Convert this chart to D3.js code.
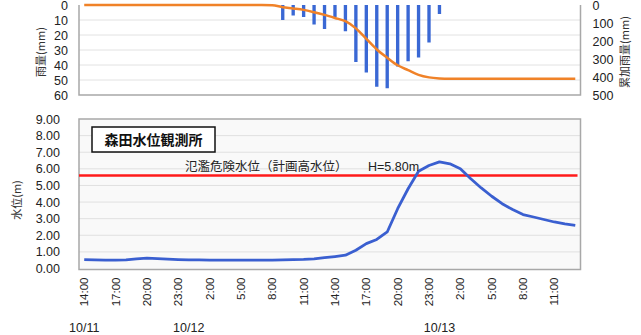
<!DOCTYPE html>
<html>
<head>
<meta charset="utf-8">
<script src="https://cdn.jsdelivr.net/npm/d3@7/dist/d3.min.js"></script>
<style>
body{margin:0;background:#fff}
svg{display:block}
</style>
</head>
<body>
<svg id="chart" width="641" height="335"></svg>
<script>
// hourly categories 10/11 14:00 .. 10/13 13:00
var hours=d3.range(48)
var timeLabels=['14:00','17:00','20:00','23:00','2:00','5:00','8:00','11:00',
                '14:00','17:00','20:00','23:00','2:00','5:00','8:00','11:00']
var dateLabels=['10/11','10/12','10/13']
var dateHour=[0,10,34]
var rain=[0,0,0,0,0,0,0,0,0,0,
          0,0,0,0,0,0,0,0,0,10,
          7,8,13,16,8,17.5,38,45,54.5,55.5,
          41,37.5,35,25,6,0,0,0,0,0,
          0,0,0,0,0,0,0,0]
var cumRain=[0,0,0,0,0,0,0,0,0,0,
             0,0,0,0,0,0,0,0,1,12,
             19,27,40,55,72,90,130,188,247,293,
             335,362,388,402,408,410,410,410,410,410,
             410,410,410,410,410,410,410,410]
var level=[0.54,0.52,0.50,0.50,0.52,0.58,0.62,0.60,0.57,0.54,
           0.52,0.52,0.50,0.50,0.50,0.50,0.50,0.50,0.50,0.52,
           0.54,0.55,0.58,0.65,0.72,0.80,1.10,1.50,1.75,2.20,
           3.60,4.80,5.85,6.20,6.42,6.30,6.00,5.40,4.85,4.35,
           3.90,3.55,3.25,3.10,2.95,2.80,2.68,2.60]
var dangerLevel=5.6
var rainTicks=[0,10,20,30,40,50,60]
var cumTicks=[0,100,200,300,400,500]
var levelTicks=[0,1,2,3,4,5,6,7,8,9]

var svg=d3.select('#chart')
var jp='"Noto Sans CJK JP", sans-serif'
var num='"Liberation Sans", Arial, sans-serif'
var conf={left:79,right:580.5,topY0:5,topY1:95,botY0:119,botY1:268.5}

var x=d3.scaleBand().domain(hours).range([conf.left,conf.right])
var yRain=d3.scaleLinear().domain([0,60]).range([conf.topY0,conf.topY1])
var yCum=d3.scaleLinear().domain([0,500]).range([conf.topY0,conf.topY1])
var yLev=d3.scaleLinear().domain([0,9]).range([conf.botY1,conf.botY0])

// ---- top chart (rain) ----
var rainG=svg.append('g').attr('id','rain')
rainG.selectAll('line.grid')
    .data(rainTicks.slice(1,-1))
    .join('line')
    .attr('class','grid')
    .attr('x1',conf.left).attr('x2',conf.right)
    .attr('y1',d=>yRain(d)).attr('y2',d=>yRain(d))
    .attr('stroke','#e2e2e2').attr('stroke-width',1)
rainG.append('path')
    .attr('d',`M${conf.left},${conf.topY0}V${conf.topY1}H${conf.right}V${conf.topY0}`)
    .attr('fill','none').attr('stroke','#a8a8a8').attr('stroke-width',1.5)

var bw=x.bandwidth()*0.32
rainG.selectAll('rect')
    .data(hours.filter(i=>rain[i]>0))
    .join('rect')
    .attr('x',i=>x(i)+x.bandwidth()/2-bw/2)
    .attr('y',yRain(0))
    .attr('width',bw)
    .attr('height',i=>yRain(rain[i])-yRain(0))
    .attr('fill','#3a68d4')

rainG.append('path')
    .datum(hours)
    .attr('d',d3.line().x(i=>x(i)+x.bandwidth()/2).y(i=>yCum(cumRain[i])).curve(d3.curveMonotoneX))
    .attr('fill','none').attr('stroke','#f08228').attr('stroke-width',2.5)

var axL=rainG.append('g').attr('transform',`translate(${conf.left},0)`)
    .call(d3.axisLeft(yRain).tickValues(rainTicks).tickSize(0).tickPadding(11))
var axR=rainG.append('g').attr('transform',`translate(${conf.right},0)`)
    .call(d3.axisRight(yCum).tickValues(cumTicks).tickSize(0).tickPadding(12))
;[axL,axR].forEach(a=>{
    a.select('.domain').remove()
    a.selectAll('text').attr('font-family',num).attr('font-size',12.5).attr('fill','#222')
})
rainG.append('text')
    .attr('transform','translate(45,52) rotate(-90)')
    .attr('text-anchor','middle')
    .attr('font-family',jp).attr('font-size',11).attr('fill','#333')
    .text('雨量(mm)')
rainG.append('text')
    .attr('transform','translate(629,52) rotate(-90)')
    .attr('text-anchor','middle')
    .attr('font-family',jp).attr('font-size',11).attr('fill','#333')
    .text('累加雨量(mm)')

// ---- bottom chart (water level) ----
var bot=svg.append('g').attr('id','level')
bot.append('rect')
    .attr('x',conf.left).attr('y',conf.botY0)
    .attr('width',conf.right-conf.left).attr('height',conf.botY1-conf.botY0+1)
    .attr('fill','#f9f9f9')
bot.selectAll('line.grid')
    .data(levelTicks.slice(1,-1))
    .join('line')
    .attr('class','grid')
    .attr('x1',conf.left).attr('x2',conf.right)
    .attr('y1',d=>yLev(d)).attr('y2',d=>yLev(d))
    .attr('stroke','#e0e0e0').attr('stroke-width',1)
bot.append('rect')
    .attr('x',conf.left).attr('y',conf.botY0)
    .attr('width',conf.right-conf.left).attr('height',conf.botY1-conf.botY0+1)
    .attr('fill','none').attr('stroke','#a8a8a8').attr('stroke-width',1.5)

bot.append('line')
    .attr('x1',conf.left).attr('x2',conf.right-3)
    .attr('y1',yLev(dangerLevel)).attr('y2',yLev(dangerLevel))
    .attr('stroke','#ff1a1a').attr('stroke-width',2.5)

bot.append('path')
    .datum(hours)
    .attr('d',d3.line().x(i=>x(i)+x.bandwidth()/2).y(i=>yLev(level[i])))
    .attr('fill','none').attr('stroke','#3a5fd0').attr('stroke-width',2.8)
    .attr('stroke-linejoin','round')

bot.append('text')
    .attr('x',185).attr('y',yLev(dangerLevel)-4)
    .attr('font-family',jp).attr('font-size',12.5).attr('fill','#222')
    .text('氾濫危険水位（計画高水位）')
bot.append('text')
    .attr('x',368).attr('y',yLev(dangerLevel)-4)
    .attr('font-family',num).attr('font-size',12.5).attr('fill','#222')
    .text('H=5.80m')

var tb=bot.append('g').attr('transform','translate(92,127)')
tb.append('rect').attr('width',123).attr('height',25)
    .attr('fill','#fff').attr('stroke','#111').attr('stroke-width',1.5)
tb.append('text').attr('x',61.5).attr('y',17.5)
    .attr('text-anchor','middle')
    .attr('font-family',jp).attr('font-size',14).attr('font-weight','bold').attr('fill','#111')
    .text('森田水位観測所')

var axY=bot.append('g').attr('transform',`translate(${conf.left},0)`)
    .call(d3.axisLeft(yLev).tickValues(levelTicks).tickFormat(d3.format('.2f')).tickSize(0).tickPadding(19))
axY.select('.domain').remove()
axY.selectAll('text').attr('font-family',num).attr('font-size',12.5).attr('fill','#222')
bot.append('text')
    .attr('transform','translate(21,200) rotate(-90)')
    .attr('text-anchor','middle')
    .attr('font-family',jp).attr('font-size',11).attr('fill','#333')
    .text('水位(m)')

var axX=bot.append('g').attr('transform',`translate(0,${conf.botY1})`)
    .call(d3.axisBottom(x).tickValues(hours.filter(i=>i%3==0)).tickFormat(i=>timeLabels[i/3]).tickSize(0))
axX.select('.domain').remove()
axX.selectAll('text')
    .attr('transform','rotate(-90)')
    .attr('text-anchor','end')
    .attr('x',-9).attr('y',0).attr('dy','0.35em')
    .attr('font-family',num).attr('font-size',11.5).attr('fill','#222')

bot.selectAll('text.date')
    .data(dateLabels)
    .join('text')
    .attr('class','date')
    .attr('x',(d,i)=>x(dateHour[i])+x.bandwidth()/2)
    .attr('y',332)
    .attr('text-anchor','middle')
    .attr('font-family',num).attr('font-size',12.5).attr('fill','#222')
    .text(d=>d)
</script>
</body>
</html>
